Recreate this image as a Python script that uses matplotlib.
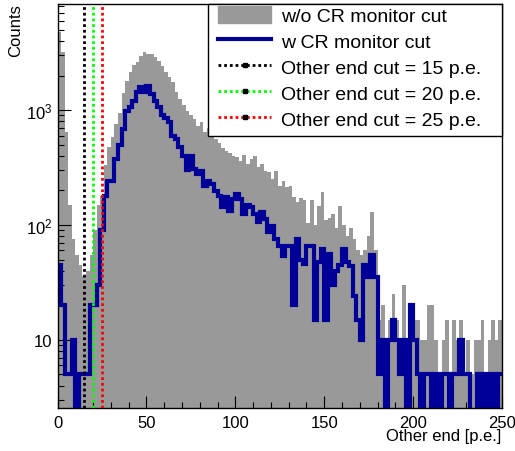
import numpy as np
import matplotlib
matplotlib.use('Agg')
import matplotlib.pyplot as plt
from matplotlib.lines import Line2D
from matplotlib.patches import Patch, Rectangle
from matplotlib.ticker import FixedLocator, FixedFormatter, LogLocator, NullFormatter, MultipleLocator

plt.rcParams['font.family'] = ['Liberation Sans', 'DejaVu Sans']
plt.rcParams['mathtext.fontset'] = 'custom'
plt.rcParams['mathtext.rm'] = 'Liberation Sans'

# ---- data ----
bin_edges = np.arange(0, 252, 2)  # 125 bins of 2 p.e.

counts_without_cut = [
    4800, 3200, 650, 150, 75, 55, 45, 36, 40, 55,
    90, 150, 180, 330, 480, 580, 750, 950, 1400, 1800,
    2150, 2450, 2600, 2950, 3200, 3100, 3050, 2900, 2650, 2400,
    2150, 1950, 1750, 1450, 1250, 1100, 980, 900, 830, 720,
    780, 650, 700, 590, 560, 520, 470, 440, 420, 400,
    390, 360, 410, 340, 375, 395, 320, 340, 295, 290,
    250, 295, 220, 240, 215, 220, 175, 160, 170, 165,
    105, 165, 100, 145, 195, 110, 115, 125, 95, 145,
    100, 80, 95, 75, 60, 55, 60, 80, 130, 60,
    15, 20, 10, 15, 25, 15, 10, 30, 10, 20,
    15, 15, 10, 10, 20, 20, 10, 5, 10, 15,
    5, 15, 10, 15, 5, 10, 5, 10, 10, 15,
    5, 10, 15, 10, 15]

counts_with_cut = [
    45, 20, 5, 5, 10, 0, 5, 5, 5, 20,
    20, 30, 90, 180, 240, 240, 375, 500, 680, 990,
    1060, 1200, 1430, 1590, 1430, 1620, 1380, 1200, 1060, 900,
    850, 790, 600, 560, 480, 400, 300, 400, 305, 280,
    295, 218, 240, 228, 197, 178, 144, 174, 133, 167,
    186, 167, 125, 148, 144, 125, 107, 130, 113, 87,
    98, 76, 66, 54, 66, 66, 20, 76, 50, 46,
    66, 66, 15, 48, 62, 15, 56, 30, 40, 45,
    62, 48, 44, 24, 15, 10, 45, 35, 55, 35,
    5, 10, 0, 10, 15, 10, 5, 10, 0, 20,
    10, 5, 0, 5, 5, 0, 5, 0, 5, 5,
    0, 5, 5, 10, 5, 5, 0, 0, 5, 0,
    5, 0, 5, 0, 5]

cut_values = [15, 20, 25]
cut_colors = ['#000000', '#00ff00', '#ff0000']
legend_labels = ['w/o CR monitor cut', 'w CR monitor cut',
                 'Other end cut = 15 p.e.', 'Other end cut = 20 p.e.',
                 'Other end cut = 25 p.e.']
x_ticks = [0, 50, 100, 150, 200, 250]
y_ticks = [10, 100, 1000]
y_ticklabels = ['10', r'$\mathregular{10^{2}}$', r'$\mathregular{10^{3}}$']

GRAY = '#999999'
BLUE = '#000099'

W, H = 515, 452
fig = plt.figure(figsize=(W / 100, H / 100), dpi=100)
L, R, T, B = 57.5, 502, 4.5, 409
ax = fig.add_axes([L / W, 1 - B / H, (R - L) / W, (B - T) / H])

g = np.array(counts_without_cut, dtype=float)
b = np.array(counts_with_cut, dtype=float)
ax.stairs(np.where(g > 0, g, 0.1), bin_edges, fill=True, color=GRAY,
          baseline=0.1, zorder=1)
bl = ax.stairs(np.where(b > 0, b, 0.1), bin_edges, color=BLUE, lw=3,
               baseline=None, zorder=2)
bl.set_joinstyle('miter')

for xv, c in zip(cut_values, cut_colors):
    ax.axvline(xv, color=c, lw=2.0, ls=(0, (1, 1.05)), zorder=3)

ax.set_yscale('log')
ax.set_xlim(0, 250)
ax.set_ylim(2.55, 8470)

ax.xaxis.set_major_locator(FixedLocator(x_ticks))
ax.xaxis.set_minor_locator(MultipleLocator(10))
ax.yaxis.set_major_locator(FixedLocator(y_ticks))
ax.yaxis.set_major_formatter(FixedFormatter(y_ticklabels))
ax.yaxis.set_minor_locator(LogLocator(base=10, subs=np.arange(2, 10)))
ax.yaxis.set_minor_formatter(NullFormatter())
ax.tick_params(which='both', direction='in', top=False, right=False,
               labelsize=12, width=0.8, colors='black')
ax.tick_params(which='major', length=9)
ax.tick_params(which='minor', length=4.5)
ax.tick_params(axis='x', pad=5)
ax.tick_params(axis='y', pad=3.5)
for s in ax.spines.values():
    s.set_linewidth(1.0)

# legend frame
fx0 = (208 - L) / (R - L)
fy0 = (B - 137) / (B - T)
ax.add_patch(Rectangle((fx0, fy0), 1 - fx0, 1 - fy0, transform=ax.transAxes,
                       facecolor='white', edgecolor='black', lw=1.0,
                       zorder=4.5, clip_on=False))
handles = [Patch(facecolor=GRAY, edgecolor=GRAY),
           Line2D([], [], color=BLUE, lw=3)]
for c in cut_colors:
    handles.append(Line2D([], [], color=c, lw=2.0, ls=(0, (1, 1.05)),
                          marker='s', markersize=2.6, markerfacecolor='black',
                          markeredgecolor='black'))
leg = ax.legend(handles, legend_labels, loc='upper left',
                bbox_to_anchor=((218 - L) / (R - L), (B - 7) / (B - T)),
                frameon=False, fontsize=14, borderpad=0, borderaxespad=0,
                handlelength=2.75, handleheight=0.93, handletextpad=0.5,
                labelspacing=0.36, numpoints=1)
leg.set_zorder(5)

fig.text(16 / W, 1 - 4.5 / H, 'Counts', rotation=90, ha='center', va='top',
         fontsize=12)
fig.text(501 / W, 1 - 437 / H, 'Other end [p.e.]', ha='right', va='center',
         fontsize=12)

fig.savefig('out.png', dpi=100)
